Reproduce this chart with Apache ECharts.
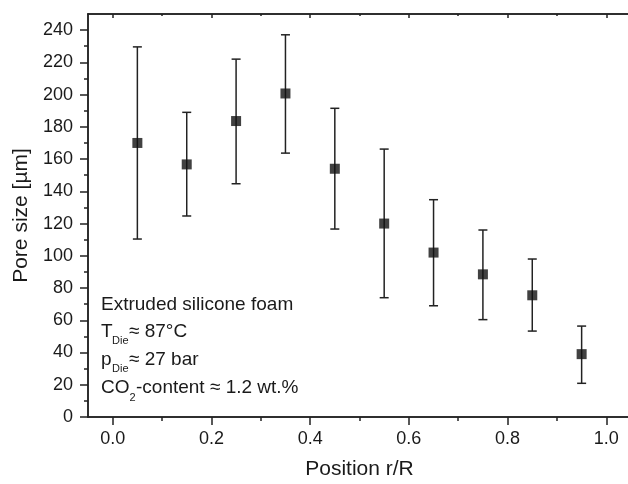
<!DOCTYPE html>
<html>
<head>
<meta charset="utf-8">
<script src="https://cdn.jsdelivr.net/npm/echarts@6/dist/echarts.min.js"></script>
<style>
html,body{margin:0;padding:0;background:#fff;}
#chart{width:628px;height:484px;}
</style>
</head>
<body>
<div id="chart"></div>
<script>
// ---- data ----
var positions = [0.05, 0.15, 0.25, 0.35, 0.45, 0.55, 0.65, 0.75, 0.85, 0.95];
var poreSize  = [170, 156.7, 183.6, 200.7, 154, 120, 102, 88.5, 75.5, 39];
var upperErr  = [229.6, 189, 222, 237.1, 191.5, 166.2, 134.8, 116, 98, 56.4];
var lowerErr  = [110.4, 124.7, 144.7, 163.7, 116.6, 74, 69, 60.4, 53.3, 20.9];
var xTicks      = [0, 0.2, 0.4, 0.6, 0.8, 1.0];
var xMinorTicks = [0.1, 0.3, 0.5, 0.7, 0.9];
var yTicks      = [0, 20, 40, 60, 80, 100, 120, 140, 160, 180, 200, 220, 240];
var yMinorTicks = [10, 30, 50, 70, 90, 110, 130, 150, 170, 190, 210, 230];

var FONT = '"Liberation Sans", Arial, Helvetica, sans-serif';
var INK = '#1a1a1a';
var AXC = '#222';

var chart = echarts.init(document.getElementById('chart'), null, {renderer: 'canvas'});

function xAx(pos, values, len, inside, labels) {
  return {
    type: 'value', position: pos, min: -0.05, max: 1.05,
    axisLine: {show: true, onZero: false, lineStyle: {color: AXC, width: 1.5}},
    axisTick: {show: true, inside: inside, length: len, customValues: values, lineStyle: {color: AXC, width: 1.5}},
    axisLabel: labels ? {show: true, customValues: values, margin: 13, fontSize: 18, fontFamily: FONT, color: INK,
      formatter: function (v) { return v.toFixed(1); }} : {show: false},
    splitLine: {show: false}
  };
}
function yAx(pos, values, len, inside, labels) {
  return {
    type: 'value', position: pos, min: 0, max: 250,
    axisLine: {show: true, onZero: false, lineStyle: {color: AXC, width: 1.5}},
    axisTick: {show: true, inside: inside, length: len, customValues: values, lineStyle: {color: AXC, width: 1.5}},
    axisLabel: labels ? {show: true, customValues: values, margin: 15, fontSize: 18, fontFamily: FONT, color: INK} : {show: false},
    splitLine: {show: false}
  };
}

var xAxes = [xAx('bottom', xTicks, 8, false, true), xAx('bottom', xMinorTicks, 4, false, false),
             xAx('top', xTicks, 4, true, false), xAx('top', xMinorTicks, 2, true, false)];
xAxes[0].name = 'Position r/R';
xAxes[0].nameLocation = 'middle';
xAxes[0].nameGap = 42;
xAxes[0].nameTextStyle = {fontSize: 21, fontFamily: FONT, color: INK};

var yAxes = [yAx('left', yTicks, 8, false, true), yAx('left', yMinorTicks, 4, false, false)];
yAxes[0].name = 'Pore size [\u00b5m]';
yAxes[0].nameLocation = 'middle';
yAxes[0].nameGap = 54;
yAxes[0].nameTextStyle = {fontSize: 21, fontFamily: FONT, color: INK};

var errData = positions.map(function (p, i) { return [p, lowerErr[i], upperErr[i]]; });
var ptData = positions.map(function (p, i) { return [p, poreSize[i]]; });

// place texts using x,y as (left, vertical center)
function t(x, yc, s, size) {
  return {type: 'text', x: x, y: yc, silent: true,
    style: {text: s, fontSize: size, fontFamily: FONT, fill: INK, verticalAlign: 'middle', align: 'left'}};
}

chart.setOption({
  animation: false,
  backgroundColor: '#fff',
  grid: {left: 88, top: 14, width: 543, height: 403, containLabel: false, outerBoundsMode: 'none'},
  xAxis: xAxes,
  yAxis: yAxes,
  series: [
    {
      type: 'custom', xAxisIndex: 0, yAxisIndex: 0, z: 2,
      data: errData,
      renderItem: function (params, api) {
        var x = api.value(0);
        var lo = api.coord([x, api.value(1)]);
        var hi = api.coord([x, api.value(2)]);
        var hw = 4.5;
        var st = {stroke: AXC, lineWidth: 1.5};
        return {type: 'group', children: [
          {type: 'line', shape: {x1: lo[0], y1: lo[1], x2: hi[0], y2: hi[1]}, style: st},
          {type: 'line', shape: {x1: lo[0] - hw, y1: lo[1], x2: lo[0] + hw, y2: lo[1]}, style: st},
          {type: 'line', shape: {x1: hi[0] - hw, y1: hi[1], x2: hi[0] + hw, y2: hi[1]}, style: st}
        ]};
      }
    },
    {
      type: 'scatter', xAxisIndex: 0, yAxisIndex: 0, z: 3,
      symbol: 'rect', symbolSize: 10,
      itemStyle: {color: '#111'},
      data: ptData
    }
  ],
  graphic: [
    t(101, 305, 'Extruded silicone foam', 19),
    t(101, 332, 'T', 19), t(112, 341, 'Die', 11), t(129, 332, '\u2248 87\u00b0C', 19),
    t(101, 360, 'p', 19), t(112, 368.5, 'Die', 11), t(129, 360, '\u2248 27 bar', 19),
    t(101, 388, 'CO', 19), t(129.5, 398, '2', 11), t(136, 388, '-content \u2248 1.2 wt.%', 19)
  ]
});
</script>
</body>
</html>
